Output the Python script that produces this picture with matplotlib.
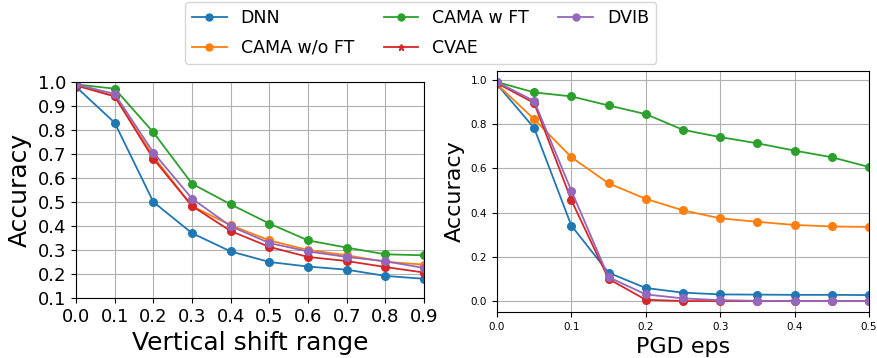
import numpy as np
import matplotlib.pyplot as plt
from matplotlib.lines import Line2D

# vertical shift experiment
shift = [0.0, 0.1, 0.2, 0.3, 0.4, 0.5, 0.6, 0.7, 0.8, 0.9]
dnn_shift = [0.98, 0.83, 0.50, 0.37, 0.294, 0.25, 0.231, 0.218, 0.192, 0.18]
cama_noft_shift = [0.99, 0.94, 0.69, 0.483, 0.403, 0.34, 0.30, 0.278, 0.251, 0.239]
cama_ft_shift = [0.99, 0.972, 0.79, 0.576, 0.49, 0.41, 0.34, 0.31, 0.282, 0.278]
cvae_shift = [0.985, 0.94, 0.68, 0.483, 0.379, 0.313, 0.271, 0.254, 0.229, 0.206]
dvib_shift = [0.99, 0.95, 0.706, 0.514, 0.399, 0.329, 0.294, 0.271, 0.253, 0.225]

# PGD experiment
eps = [0.0, 0.05, 0.1, 0.15, 0.2, 0.25, 0.3, 0.35, 0.4, 0.45, 0.5]
dnn_pgd = [0.98, 0.782, 0.341, 0.128, 0.059, 0.038, 0.03, 0.029, 0.028, 0.028, 0.027]
cama_noft_pgd = [0.98, 0.822, 0.65, 0.532, 0.462, 0.41, 0.374, 0.358, 0.344, 0.337, 0.335]
cama_ft_pgd = [0.99, 0.943, 0.925, 0.884, 0.845, 0.774, 0.741, 0.713, 0.68, 0.65, 0.606]
cvae_pgd = [0.985, 0.895, 0.456, 0.10, 0.006, 0.0, 0.0, 0.0, 0.0, 0.0, 0.0]
dvib_pgd = [0.99, 0.904, 0.499, 0.108, 0.03, 0.012, 0.004, 0.001, 0.0, 0.0, 0.0]

labels = ['DNN', 'CAMA w/o FT', 'CAMA w FT', 'CVAE', 'DVIB']
colors = ['#1f77b4', '#ff7f0e', '#2ca02c', '#d62728', '#9467bd']
legend_markers = ['o', 'o', 'o', '*', 'o']

fig = plt.figure(figsize=(8.78, 3.58), dpi=100)

ax1 = fig.add_axes([0.0866, 0.1676, 0.3964, 0.6034])
for ys, c in zip([dnn_shift, cama_noft_shift, cama_ft_shift, cvae_shift, dvib_shift], colors):
    ax1.plot(shift, ys, marker='o', color=c, ms=5.5, lw=1.3)
ax1.set_xlim(0, 0.9)
ax1.set_ylim(0.1, 1.0)
ax1.set_xticks(shift)
ax1.set_yticks(np.arange(0.1, 1.01, 0.1))
ax1.tick_params(labelsize=13)
ax1.set_xlabel('Vertical shift range', fontsize=18)
ax1.set_ylabel('Accuracy', fontsize=18)
ax1.grid(True)

ax2 = fig.add_axes([0.566, 0.1285, 0.4237, 0.673])
for ys, c in zip([dnn_pgd, cama_noft_pgd, cama_ft_pgd, cvae_pgd, dvib_pgd], colors):
    ax2.plot(eps, ys, marker='o', color=c, ms=5.5, lw=1.3)
ax2.set_xlim(0, 0.5)
ax2.tick_params(labelsize=7.5)
ax2.set_xlabel('PGD eps', fontsize=16)
ax2.set_ylabel('Accuracy', fontsize=16)
ax2.grid(True)

handles = [Line2D([], [], color=c, marker=m, ms=5, lw=1.3)
           for c, m in zip(colors, legend_markers)]
fig.legend(handles, labels, loc='upper center', bbox_to_anchor=(0.479, 1.0),
           borderaxespad=0.1, ncol=3, fontsize=12.5, columnspacing=1.7,
           handlelength=2.0, labelspacing=0.7)

fig.savefig('out.png', dpi=100)
